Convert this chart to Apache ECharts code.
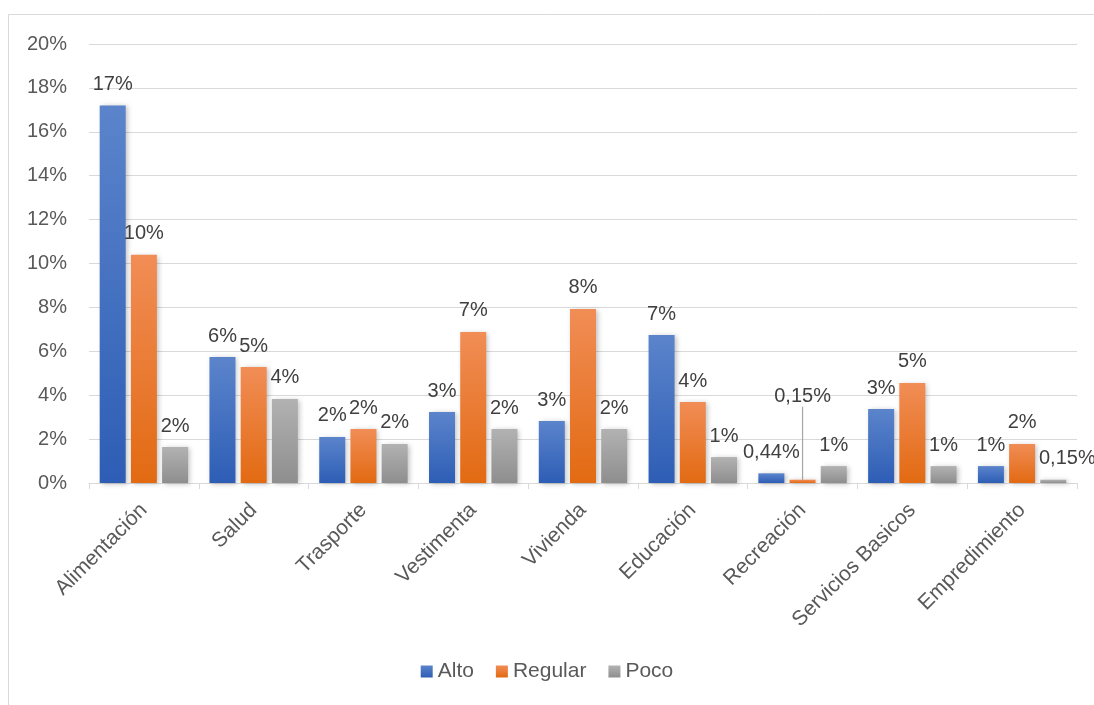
<!DOCTYPE html>
<html><head><meta charset="utf-8">
<script src="https://cdn.jsdelivr.net/npm/echarts@6/dist/echarts.min.js"></script>
<style>html,body{margin:0;padding:0;background:#fff}#c{width:1094px;height:705px}</style>
</head><body><div id="c"></div>
<script>
const categories = ['Alimentación','Salud','Trasporte','Vestimenta','Vivienda','Educación','Recreación','Servicios Basicos','Empredimiento'];
const alto    = [17.2, 5.74, 2.1, 3.23, 2.82, 6.74, 0.44, 3.37, 0.77];
const regular = [10.4, 5.28, 2.46, 6.88, 7.93, 3.69, 0.15, 4.56, 1.78];
const poco    = [1.64, 3.83, 1.78, 2.46, 2.46, 1.18, 0.77, 0.77, 0.15];
const yTicks  = [0, 2, 4, 6, 8, 10, 12, 14, 16, 18, 20];

const FONT = 'Liberation Sans';
const TXT = '#595959';
function grad(top, bottom){
  return new echarts.graphic.LinearGradient(0,0,0,1,[{offset:0,color:top},{offset:1,color:bottom}]);
}
function fmt(p){
  const v = p.value;
  if (v < 0.5) return v.toFixed(2).replace('.', ',') + '%';
  return Math.round(v) + '%';
}
function mk(name, values, top, bottom, layout, lineIdx){
  const data = values.map((v,i) => (i === lineIdx ? {value:v, labelLine:{show:true}} : v));
  return {
    name, type:'bar', data,
    barWidth: 26,
    barGap: '20%',
    itemStyle:{color: grad(top,bottom), shadowColor:'rgba(0,0,0,0.25)', shadowBlur:5, shadowOffsetX:2, shadowOffsetY:1},
    label:{show:true, position:'top', distance:11, formatter: fmt, fontFamily:FONT, fontSize:20, color:'#404040'},
    labelLine:{show:false, lineStyle:{color:'#a6a6a6', width:1.2}},
    labelLayout: layout
  };
}
const chart = echarts.init(document.getElementById('c'));
chart.setOption({
  animation:false,
  textStyle:{fontFamily:FONT},
  graphic:[{type:'rect', shape:{x:8.5,y:14.5,width:1100,height:700}, style:{fill:'none', stroke:'#d9d9d9', lineWidth:1}, silent:true}],
  grid:{left:89, right:17, top:44, bottom:222, containLabel:false},
  legend:{bottom:18, left:'center', itemWidth:12, itemHeight:12, itemGap:22,
    textStyle:{fontFamily:FONT, fontSize:21, color:TXT},
    data:['Alto','Regular','Poco'], icon:'rect'},
  xAxis:{type:'category', data:categories,
    axisLine:{lineStyle:{color:'#d9d9d9', width:1}},
    axisTick:{show:true, length:6, alignWithLabel:false, lineStyle:{color:'#d9d9d9'}},
    axisLabel:{rotate:45, margin:24, fontSize:21, color:TXT, fontFamily:FONT, interval:0}
  },
  yAxis:{type:'value', min:0, max:20, interval:2,
    axisLine:{show:false}, axisTick:{show:false},
    splitLine:{lineStyle:{color:'#d9d9d9', width:1}},
    axisLabel:{formatter: v => yTicks.includes(v) ? v + '%' : '', fontSize:20, color:TXT, fontFamily:FONT, margin:22}
  },
  series:[
    mk('Alto', alto, '#5b84cb', '#2d5db5', null, -1),
    mk('Regular', regular, '#f18d56', '#e26a12', function(p){ if(p.dataIndex===6) return {dy:-62}; }, 6),
    mk('Poco', poco, '#b2b2b2', '#8e8e8e', function(p){ if(p.dataIndex===8) return {dx:14}; }, -1)
  ]
});
</script></body></html>
